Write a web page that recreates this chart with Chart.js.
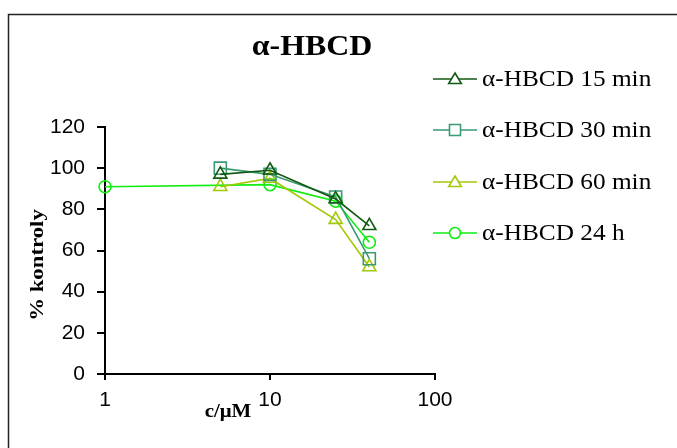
<!DOCTYPE html>
<html>
<head>
<meta charset="utf-8">
<script src="https://cdn.jsdelivr.net/npm/chart.js@4"></script>
<style>
  html, body { margin: 0; padding: 0; background: #fff; }
  #wrap { width: 677px; height: 448px; position: relative; }
</style>
</head>
<body>
<div id="wrap"><canvas id="chart" width="677" height="448"></canvas></div>
<script>
// concentrations (uM) and % of control
const conc = [5, 10, 25, 40];
const conc24h = [1, 10, 25, 40];
const min15 = [97, 99, 85, 72];
const min30 = [100, 97, 86, 56];
const min60 = [91, 95, 75, 52];
const h24 = [91, 92, 84, 64];
const labels = ['α-HBCD 15 min', 'α-HBCD 30 min', 'α-HBCD 60 min', 'α-HBCD 24 h'];
const colors = ['#125912', '#3a9a72', '#a2c806', '#10ee10'];
const styles = ['triangle', 'rect', 'triangle', 'circle'];
const xTicks = [1, 10, 100];

function pts(xs, ys) {
  return xs.map(function (x, i) { return { x: x, y: ys[i] }; });
}

const series = [pts(conc, min15), pts(conc, min30), pts(conc, min60), pts(conc24h, h24)];
const radius = { triangle: 7.5, rect: 8.5, circle: 6 };

const datasets = series.map(function (d, i) {
  return {
    label: labels[i],
    data: d,
    showLine: true,
    borderColor: colors[i],
    borderWidth: 1.6,
    pointStyle: styles[i],
    pointRadius: radius[styles[i]],
    pointBorderColor: colors[i],
    pointBackgroundColor: 'rgba(0,0,0,0)',
    pointBorderWidth: 1.6,
    clip: false
  };
});

function marker(ctx, style, x, y, r) {
  ctx.beginPath();
  if (style === 'triangle') {
    ctx.moveTo(x, y - r);
    ctx.lineTo(x + r * 1.05, y + r * 0.75);
    ctx.lineTo(x - r * 1.05, y + r * 0.75);
    ctx.closePath();
  } else if (style === 'rect') {
    ctx.rect(x - r, y - r, r * 2, r * 2);
  } else {
    ctx.arc(x, y, r, 0, Math.PI * 2);
  }
  ctx.fillStyle = '#fff';
  ctx.fill();
  ctx.stroke();
}

// text in the reference is a little wider than the fonts here, so stretch it
function stretchText(ctx, text, x, y, sx, rot) {
  ctx.save();
  ctx.translate(x, y);
  if (rot) ctx.rotate(rot);
  ctx.scale(sx, 1);
  ctx.fillText(text, 0, 0);
  ctx.restore();
}

const extras = {
  id: 'extras',
  afterDraw: function (chart) {
    const ctx = chart.ctx;
    ctx.save();
    // outer frame
    ctx.strokeStyle = '#222';
    ctx.lineWidth = 1.5;
    ctx.strokeRect(8.5, 14.5, 700, 460);

    // title
    ctx.fillStyle = '#000';
    ctx.textAlign = 'center';
    ctx.textBaseline = 'middle';
    ctx.font = 'bold 29px "Liberation Serif"';
    stretchText(ctx, 'α-HBCD', 312, 48, 1.1);

    // axis titles
    ctx.font = 'bold 19px "Liberation Serif"';
    stretchText(ctx, 'c/μM', 228, 412, 1.1);
    stretchText(ctx, '% kontroly', 38, 265, 1.2, -Math.PI / 2);

    // legend
    ctx.textAlign = 'left';
    ctx.font = '23px "Liberation Serif"';
    const rows = [79, 130, 182, 233];
    chart.data.datasets.forEach(function (ds, i) {
      const y = rows[i];
      ctx.strokeStyle = ds.borderColor;
      ctx.lineWidth = 1.6;
      ctx.beginPath();
      ctx.moveTo(433, y);
      ctx.lineTo(477, y);
      ctx.stroke();
      marker(ctx, styles[i], 455, y, styles[i] === 'triangle' ? 6 : 5.5);
      ctx.fillStyle = '#000';
      stretchText(ctx, ds.label, 482, y + 1, 1.1);
    });
    ctx.restore();
  }
};

new Chart(document.getElementById('chart'), {
  type: 'scatter',
  data: { datasets: datasets },
  plugins: [extras],
  options: {
    responsive: false,
    animation: false,
    layout: { padding: { left: 0, top: 127, right: 242, bottom: 0 } },
    plugins: { legend: { display: false }, tooltip: { enabled: false } },
    scales: {
      x: {
        type: 'logarithmic',
        min: 1,
        max: 100,
        afterBuildTicks: function (scale) {
          scale.ticks = xTicks.map(function (v) { return { value: v }; });
        },
        afterFit: function (scale) { scale.height = 74; },
        ticks: {
          color: '#000',
          font: { family: '"Liberation Sans"', size: 21 },
          padding: 8,
          maxRotation: 0,
          autoSkip: false,
          callback: function (v) { return String(v); }
        },
        grid: { drawOnChartArea: false, drawTicks: true, tickLength: 6, color: '#000', lineWidth: 2 },
        border: { color: '#000', width: 2 }
      },
      y: {
        min: 0,
        max: 120,
        afterFit: function (scale) { scale.width = 105; },
        ticks: {
          stepSize: 20,
          color: '#000',
          font: { family: '"Liberation Sans"', size: 21 },
          padding: 12
        },
        grid: { drawOnChartArea: false, drawTicks: true, tickLength: 8, color: '#000', lineWidth: 2 },
        border: { color: '#000', width: 2 }
      }
    }
  }
});
</script>
</body>
</html>
